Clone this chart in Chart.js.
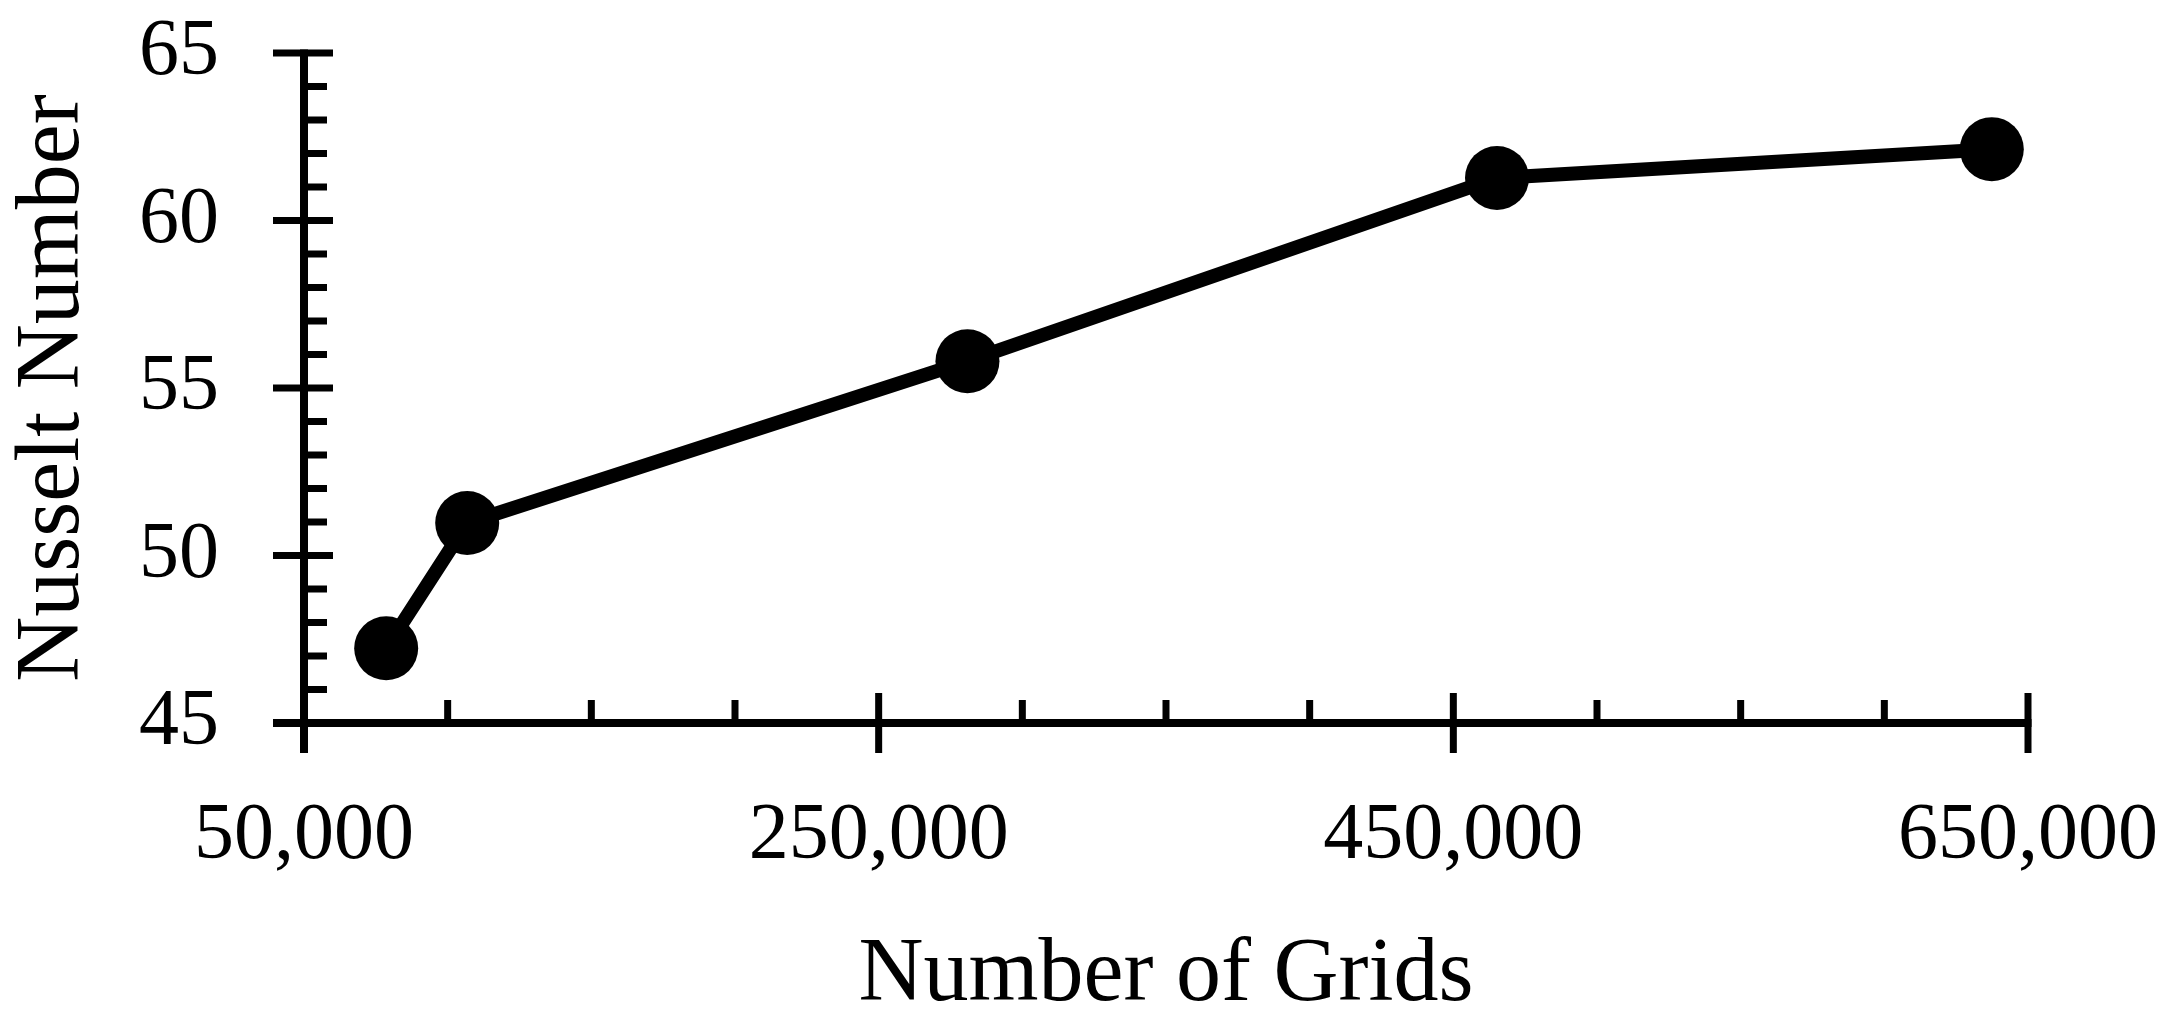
<!DOCTYPE html>
<html>
<head>
<meta charset="utf-8">
<script src="https://cdn.jsdelivr.net/npm/chart.js@4/dist/chart.umd.min.js"></script>
<style>
 html,body{margin:0;padding:0;background:#fff}
 canvas{display:block}
</style>
</head>
<body>
<canvas id="grafico" width="2183" height="1035"></canvas>
<script>
// grid independence study
const gridCounts=[78600,106800,280900,465200,637400];
const nusselt=[47.23,50.97,55.80,61.27,62.13];
const xLabelled=[50000,250000,450000,650000];
const yLabelled=[45,50,55,60,65];

const FONT='"Liberation Serif", "Times New Roman", serif';

// axis lines + ticks: minor ticks point inward, major ticks cross the axis
const axisTicks={
 id:'axisTicks',
 beforeDatasetsDraw(chart){
  const {ctx,chartArea:a,scales:{x,y}}=chart;
  ctx.save();
  ctx.strokeStyle='#000';
  ctx.lineCap='butt';
  ctx.lineWidth=8;
  ctx.beginPath();
  ctx.moveTo(a.left,a.top-3.5);ctx.lineTo(a.left,a.bottom+30);
  ctx.moveTo(a.left-31,a.bottom);ctx.lineTo(a.right+3.5,a.bottom);
  ctx.stroke();
  ctx.lineWidth=7;
  ctx.beginPath();
  x.ticks.forEach(t=>{
   const px=x.getPixelForValue(t.value), major=xLabelled.includes(t.value);
   ctx.moveTo(px,a.bottom+(major?30:0));ctx.lineTo(px,a.bottom-(major?30:23));
  });
  y.ticks.forEach(t=>{
   const py=y.getPixelForValue(t.value), major=yLabelled.includes(t.value);
   ctx.moveTo(a.left-(major?31:0),py);ctx.lineTo(a.left+(major?29:23),py);
  });
  ctx.stroke();
  ctx.restore();
 }
};

new Chart(grafico,{
 type:'scatter',
 data:{datasets:[{
  data:gridCounts.map((g,i)=>({x:g,y:nusselt[i]})),
  showLine:true,
  borderColor:'#000',
  borderWidth:14,
  backgroundColor:'#000',
  pointRadius:32,
  pointBorderWidth:0,
  pointHoverRadius:32,
  clip:false
 }]},
 options:{
  responsive:false,
  animation:false,
  events:[],
  layout:{padding:{top:53,right:155,left:0,bottom:0}},
  plugins:{legend:{display:false},tooltip:{enabled:false}},
  scales:{
   x:{
    type:'linear',min:50000,max:650000,
    afterFit:s=>{s.height=312;s.paddingLeft=0;s.paddingRight=0},
    grid:{display:false,drawTicks:false},
    border:{display:false},
    ticks:{stepSize:50000,autoSkip:false,maxRotation:0,padding:66,color:'#000',
     font:{family:FONT,size:80},
     callback:v=>xLabelled.includes(v)?v.toLocaleString('en-US'):''},
    title:{display:true,text:'Number of Grids',color:'#000',
     font:{family:FONT,size:90},padding:{top:0,bottom:5}}
   },
   y:{
    type:'linear',min:45,max:65,
    afterFit:s=>{s.width=304;s.paddingTop=0;s.paddingBottom=0},
    grid:{display:false,drawTicks:false},
    border:{display:false},
    ticks:{stepSize:1,autoSkip:false,padding:85,color:'#000',
     font:{family:FONT,size:80},
     callback:v=>yLabelled.includes(v)?String(v):''},
    title:{display:true,text:'Nusselt Number',color:'#000',
     font:{family:FONT,size:90},padding:{top:0,bottom:0}}
   }
  }
 },
 plugins:[axisTicks]
});
</script>
</body>
</html>
